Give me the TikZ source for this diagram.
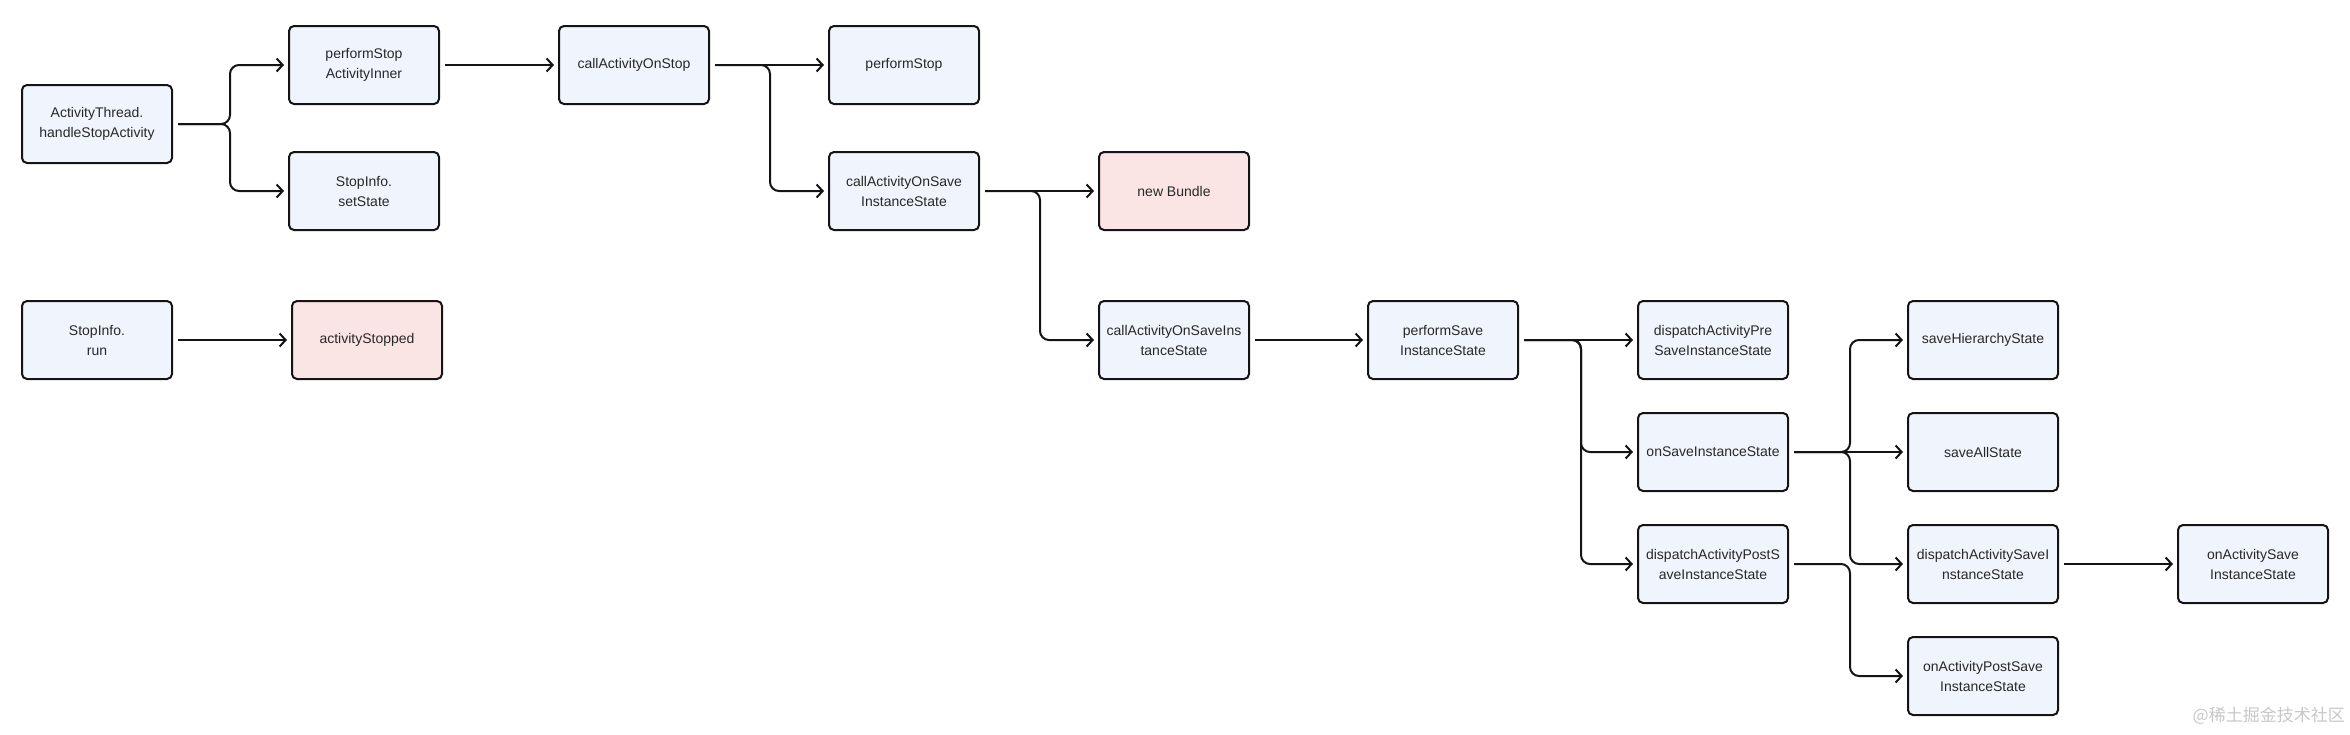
\documentclass[tikz,border=0pt]{standalone}
\usepackage{fontspec}
\setmainfont{Liberation Sans}
\newfontfamily\cjk{Noto Sans CJK SC}
\usetikzlibrary{arrows.meta}
\definecolor{boxblue}{RGB}{240,244,252}
\definecolor{boxpink}{RGB}{250,228,228}
\definecolor{edgecol}{RGB}{20,20,20}
\definecolor{txtcol}{RGB}{40,40,40}
\begin{document}
\begin{tikzpicture}[x=1pt,y=-1pt,
  box/.style={draw=edgecol, line width=2pt, rounded corners=5pt, fill=boxblue,
    minimum width=150pt, minimum height=78pt, align=center, inner sep=2pt,
    font=\fontsize{14}{20}\selectfont, text=txtcol},
  pinkbox/.style={box, fill=boxpink},
  conn/.style={draw=edgecol, line width=2pt, rounded corners=9pt,
    -{Straight Barb[length=6pt,width=13pt,line width=2pt]},
    shorten >=4pt, shorten <=5pt}]
\useasboundingbox (0,0) rectangle (2350,734);
% nodes
\node[box] (hs) at (97,124) {ActivityThread.\\handleStopActivity};
\node[box] (psi) at (364,65) {performStop\\ActivityInner};
\node[box] (ss) at (364,191) {StopInfo.\\setState};
\node[box] (sr) at (97,340) {StopInfo.\\run};
\node[pinkbox] (as) at (367,340) {activityStopped};
\node[box] (caos) at (634,65) {callActivityOnStop};
\node[box] (ps) at (904,65) {performStop};
\node[box] (caosis) at (904,191) {callActivityOnSave\\InstanceState};
\node[pinkbox] (nb) at (1174,191) {new Bundle};
\node[box] (caosis2) at (1174,340) {callActivityOnSaveIns\\tanceState};
\node[box] (psis) at (1443,340) {performSave\\InstanceState};
\node[box] (dpre) at (1713,340) {dispatchActivityPre\\SaveInstanceState};
\node[box] (osis) at (1713,452) {onSaveInstanceState};
\node[box] (dpost) at (1713,564) {dispatchActivityPostS\\aveInstanceState};
\node[box] (shs) at (1983,340) {saveHierarchyState};
\node[box] (sas) at (1983,452) {saveAllState};
\node[box] (dsis) at (1983,564) {dispatchActivitySaveI\\nstanceState};
\node[box] (oapsis) at (1983,676) {onActivityPostSave\\InstanceState};
\node[box] (oasis) at (2253,564) {onActivitySave\\InstanceState};
\node[anchor=east, text=black!22, font=\cjk\fontsize{17}{17}\selectfont, inner sep=0pt] (wm) at (2345,716) {@稀土掘金技术社区};
% connectors
\draw[conn] (hs.east) -- ++(57,0) |- (psi.west);
\draw[conn] (hs.east) -- ++(57,0) |- (ss.west);
\draw[conn] (psi.east) -- (caos.west);
\draw[conn] (caos.east) -- (ps.west);
\draw[conn] (caos.east) -- ++(60,0) |- (caosis.west);
\draw[conn] (caosis.east) -- (nb.west);
\draw[conn] (caosis.east) -- ++(60,0) |- (caosis2.west);
\draw[conn] (caosis2.east) -- (psis.west);
\draw[conn] (psis.east) -- (dpre.west);
\draw[conn] (psis.east) -- ++(62,0) |- (osis.west);
\draw[conn] (psis.east) -- ++(62,0) |- (dpost.west);
\draw[conn] (osis.east) -- (sas.west);
\draw[conn] (osis.east) -- ++(61,0) |- (shs.west);
\draw[conn] (osis.east) -- ++(61,0) |- (dsis.west);
\draw[conn] (dpost.east) -- ++(61,0) |- (oapsis.west);
\draw[conn] (dsis.east) -- (oasis.west);
\draw[conn] (sr.east) -- (as.west);
\end{tikzpicture}
\end{document}
